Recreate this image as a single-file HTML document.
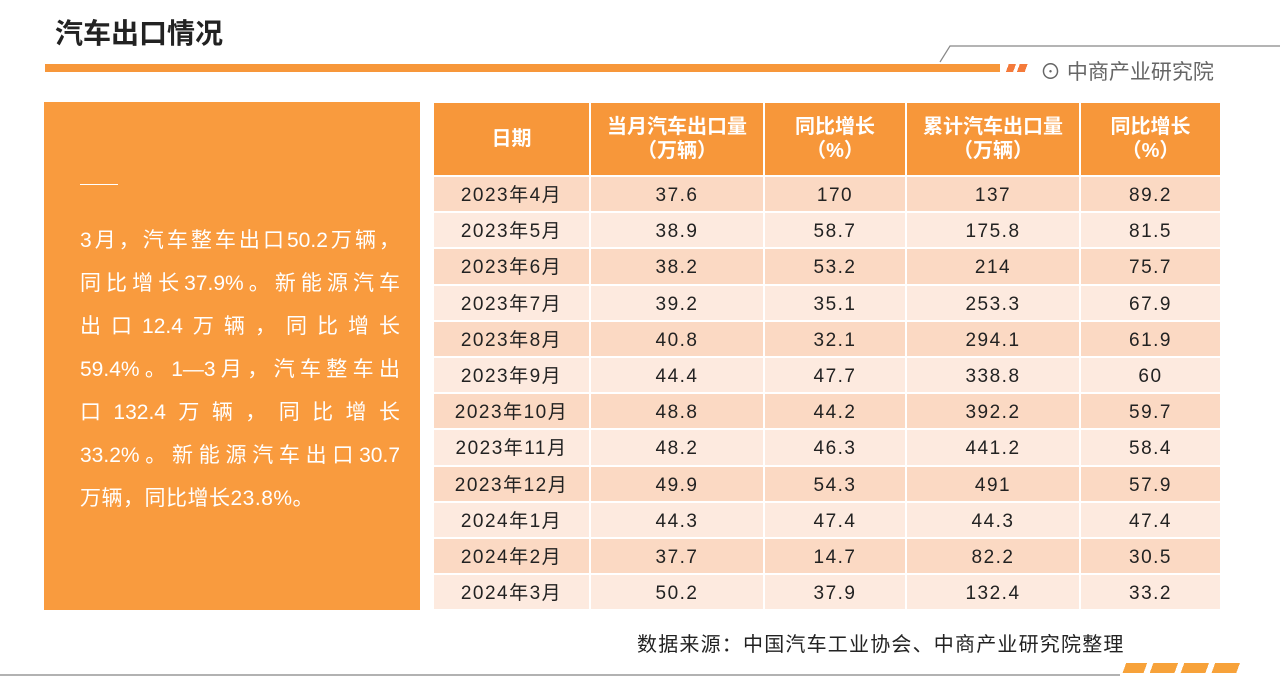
<!DOCTYPE html>
<html><head><meta charset="utf-8"><style>
body{margin:0;width:1280px;height:691px;background:#fff;position:relative;overflow:hidden;font-family:"Liberation Sans","Noto Sans CJK SC",sans-serif;}
.abs{position:absolute}
table{border-collapse:collapse;position:absolute;left:432px;top:101px;}
td,th{text-align:center;border:2px solid #fff;padding:0;font-size:19px;color:#222;}
td{letter-spacing:1.5px;line-height:30px;vertical-align:middle;padding-top:4px;box-sizing:border-box}
th{background:#f7973a;color:#fff;font-size:20px;font-weight:bold;height:72px;line-height:24px;}
tr.a td{background:#fbd9c3;height:36.2px}
tr.b td{background:#fdeadf;height:36.2px}
.ln{width:320px;text-align:justify;text-align-last:justify;height:43px;line-height:43px}
</style></head><body>
<div class="abs" style="left:55px;top:12px;font-size:28px;font-weight:bold;color:#222">汽车出口情况</div>
<div class="abs" style="left:45px;top:64px;width:955px;height:8px;background:#f7973a"></div>
<div class="abs" style="left:1003px;top:64px;width:26px;height:8px;background:linear-gradient(110deg,#fff 20%,#f47a3a 20%,#f47a3a 45%,#fff 45%,#fff 58%,#f47a3a 58%,#f47a3a 85%,#fff 85%)"></div>
<svg class="abs" style="left:0;top:0" width="1280" height="691"><polyline points="940,62 950,46 1280,46" fill="none" stroke="#888" stroke-width="1.2"/><line x1="0" y1="675" x2="1120" y2="675" stroke="#999" stroke-width="1.5"/></svg>
<div class="abs" style="left:1040px;top:56px;font-size:21px;color:#666">⊙ 中商产业研究院</div>
<div class="abs" style="left:44px;top:102px;width:376px;height:508px;background:#f99b3e"></div>
<div class="abs" style="left:80px;top:184px;width:38px;height:1px;background:#fff"></div>
<div class="abs" style="left:80px;top:219px;color:#fff;font-size:21px">
<div class="ln">3月，汽车整车出口50.2万辆，</div>
<div class="ln">同比增长37.9%。新能源汽车</div>
<div class="ln">出口12.4万辆，同比增长</div>
<div class="ln">59.4%。1—3月，汽车整车出</div>
<div class="ln">口132.4万辆，同比增长</div>
<div class="ln">33.2%。新能源汽车出口30.7</div>
<div style="height:43px;line-height:43px;letter-spacing:0.5px">万辆，同比增长23.8%。</div>
</div>
<table>
<tr><th style="width:155px">日期</th><th style="width:172px">当月汽车出口量<br>（万辆）</th><th style="width:140px">同比增长<br>（%）</th><th style="width:172px">累计汽车出口量<br>（万辆）</th><th style="width:139px">同比增长<br>（%）</th></tr>
<tr class="a"><td>2023年4月</td><td>37.6</td><td>170</td><td>137</td><td>89.2</td></tr>
<tr class="b"><td>2023年5月</td><td>38.9</td><td>58.7</td><td>175.8</td><td>81.5</td></tr>
<tr class="a"><td>2023年6月</td><td>38.2</td><td>53.2</td><td>214</td><td>75.7</td></tr>
<tr class="b"><td>2023年7月</td><td>39.2</td><td>35.1</td><td>253.3</td><td>67.9</td></tr>
<tr class="a"><td>2023年8月</td><td>40.8</td><td>32.1</td><td>294.1</td><td>61.9</td></tr>
<tr class="b"><td>2023年9月</td><td>44.4</td><td>47.7</td><td>338.8</td><td>60</td></tr>
<tr class="a"><td>2023年10月</td><td>48.8</td><td>44.2</td><td>392.2</td><td>59.7</td></tr>
<tr class="b"><td>2023年11月</td><td>48.2</td><td>46.3</td><td>441.2</td><td>58.4</td></tr>
<tr class="a"><td>2023年12月</td><td>49.9</td><td>54.3</td><td>491</td><td>57.9</td></tr>
<tr class="b"><td>2024年1月</td><td>44.3</td><td>47.4</td><td>44.3</td><td>47.4</td></tr>
<tr class="a"><td>2024年2月</td><td>37.7</td><td>14.7</td><td>82.2</td><td>30.5</td></tr>
<tr class="b"><td>2024年3月</td><td>50.2</td><td>37.9</td><td>132.4</td><td>33.2</td></tr>
</table>
<div class="abs" style="left:637px;top:628px;font-size:20px;letter-spacing:1.2px;color:#222">数据来源：中国汽车工业协会、中商产业研究院整理</div>
<div class="abs" style="left:1120px;top:663px;width:120px;height:10px;background:linear-gradient(110deg,#fff 5%,#f7a23a 5%,#f7a23a 22%,#fff 22%,#fff 27%,#f7a23a 27%,#f7a23a 47%,#fff 47%,#fff 52%,#f7a23a 52%,#f7a23a 72%,#fff 72%,#fff 77%,#f7a23a 77%,#f7a23a 97%,#fff 97%)"></div>
</body></html>
